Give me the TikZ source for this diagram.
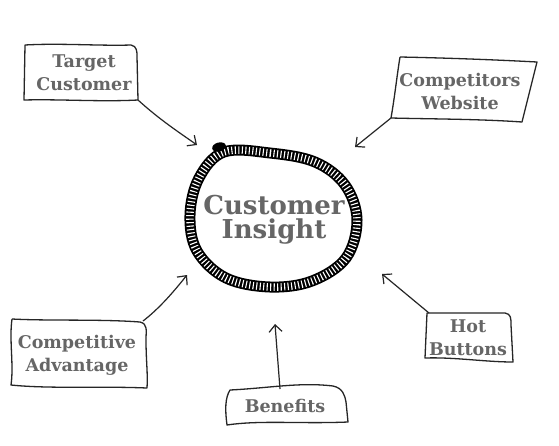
\documentclass[tikz,border=0pt]{standalone}
\usepackage{fontspec}
\setmainfont{DejaVu Serif}
\usetikzlibrary{arrows.meta}
\begin{document}
\begin{tikzpicture}[x=1pt,y=-1pt,
  lbl/.style={font=\fontsize{17.5}{23}\selectfont\bfseries, text=black!60, align=center, inner sep=0pt},
  big/.style={font=\fontsize{26}{24}\selectfont\bfseries, text=black!60, align=center, inner sep=0pt},
  boxline/.style={line width=1.3pt, draw=black!85, line join=round},
  conn/.style={line width=1.2pt, draw=black!85, -{Straight Barb[length=7pt,width=13pt,line width=1.2pt]}}]
\useasboundingbox (0,0) rectangle (559,445);
\fill[white] (0,0) rectangle (559,445);

% ring
\def\ringpath{plot[smooth cycle, tension=0.6] coordinates {(224,152) (270,153) (315,162) (345,185) (357,220) (346,258) (312,281) (270,287) (226,278) (197,251) (190,215) (199,178)}}
\draw[line width=11pt, black] \ringpath;
\draw[line width=7.5pt, white, dash pattern=on 1.1pt off 2.4pt] \ringpath;
\fill[black, rotate around={15:(219,147)}] (219,147) ellipse [x radius=7, y radius=4.5];
\node[big] (ci) at (274,220) {Customer\\Insight};

% Target Customer
\draw[boxline] (25,45) .. controls (60,43) and (100,46) .. (131,45) .. controls (137,46) and (137,52) .. (137,56) -- (138,100) .. controls (100,102) and (60,99) .. (24,100) -- cycle;
\node[lbl] (tc) at (84,73) {Target\\Customer};
\coordinate (tcs) at (138,100);
\coordinate (tce) at (197,145);
\draw[conn] (tcs) .. controls (160,120) and (180,133) .. (tce);

% Competitors Website
\draw[boxline] (400,57) .. controls (450,58) and (500,60) .. (537,62) -- (522,122) .. controls (480,119) and (430,119) .. (391,118) .. controls (395,95) and (397,75) .. (400,57);
\node[lbl] (cw) at (460,91) {Competitors\\Website};
\coordinate (cws) at (391,118);
\coordinate (cwe) at (355,147);
\draw[conn] (cws) -- (cwe);

% Competitive Advantage
\draw[boxline] (12,319) .. controls (50,321) and (100,319) .. (140,322) .. controls (148,324) and (146,330) .. (146,340) .. controls (146,360) and (148,375) .. (147,388) .. controls (100,386) and (50,389) .. (11,385) .. controls (14,365) and (9,340) .. (12,319);
\node[lbl] (ca) at (77,355) {Competitive\\Advantage};
\coordinate (cas) at (143,321);
\coordinate (cae) at (187,275);
\draw[conn] (cas) .. controls (160,308) and (175,290) .. (cae);

% Hot Buttons
\draw[boxline] (427,313) -- (505,313) .. controls (511,314) and (511,318) .. (511,325) -- (513,362) .. controls (485,362) and (455,357) .. (425,358) -- cycle;
\node[lbl] (hb) at (468,338) {Hot\\Buttons};
\coordinate (hbs) at (429,313);
\coordinate (hbe) at (382,274);
\draw[conn] (hbs) -- (hbe);

% Benefits
\draw[boxline] (230,390) .. controls (270,388) and (300,382) .. (333,386) .. controls (343,388) and (345,396) .. (346,402) -- (348,422) .. controls (300,424) and (260,420) .. (227,425) .. controls (225,410) and (225,398) .. (230,390) -- cycle;
\node[lbl] (bf) at (285,406) {Benefits};
\coordinate (bfs) at (280,389);
\coordinate (bfe) at (275,324);
\draw[conn] (bfs) -- (bfe);
\end{tikzpicture}
\end{document}
